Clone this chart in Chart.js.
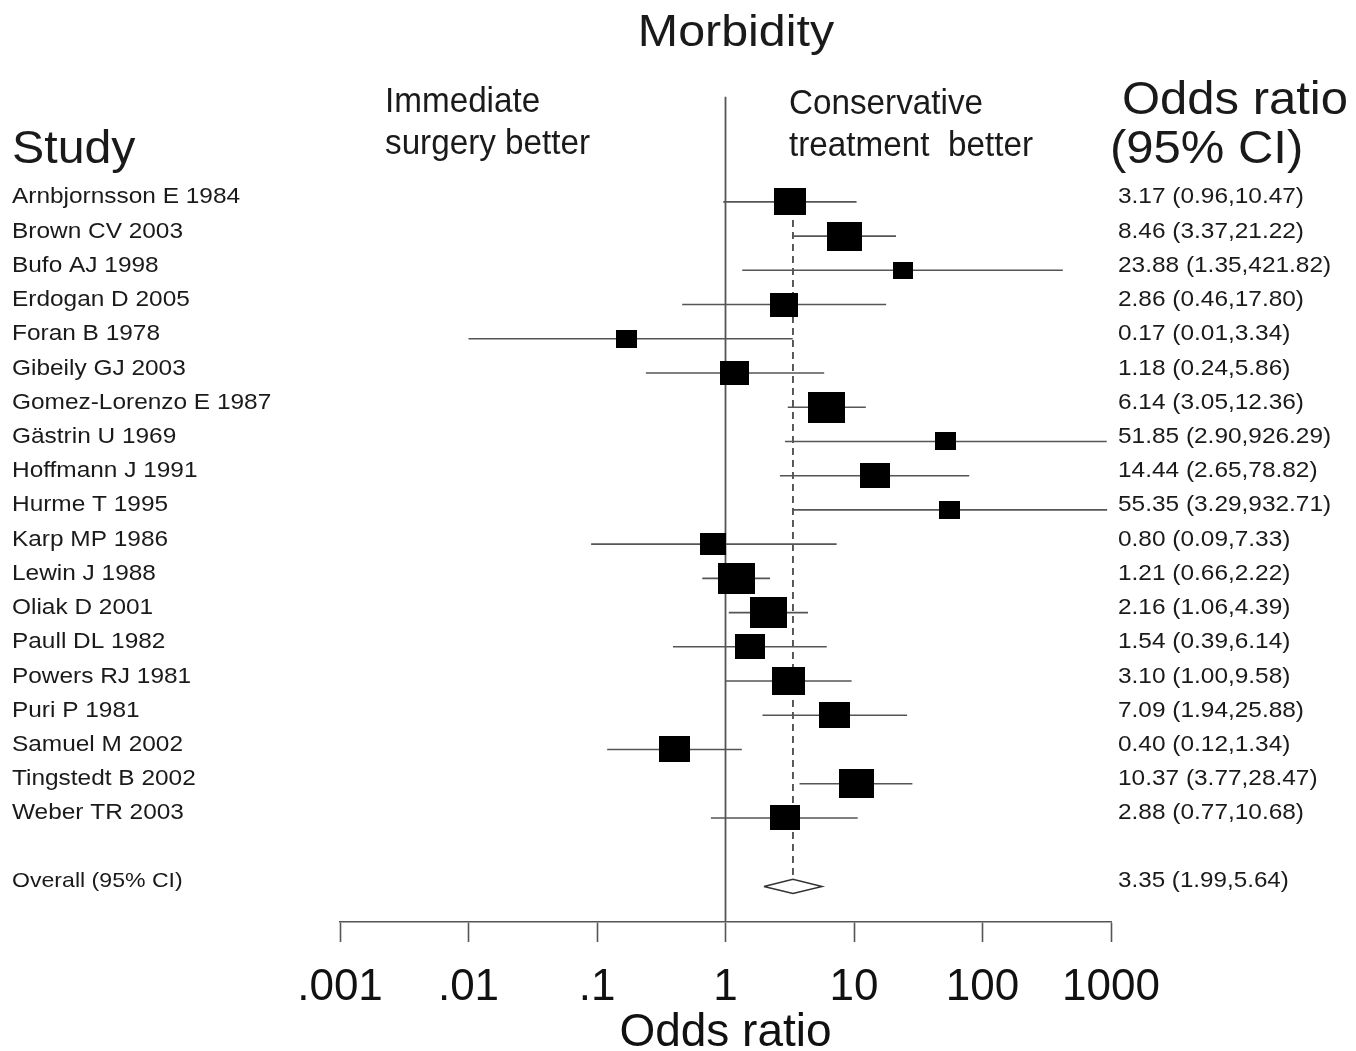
<!DOCTYPE html>
<html>
<head>
<meta charset="utf-8">
<title>Morbidity</title>
<script src="https://cdn.jsdelivr.net/npm/chart.js@4.4.1/dist/chart.umd.min.js"></script>
<style>
  html, body { margin: 0; padding: 0; background: #fff; }
  #wrap { width: 1356px; height: 1051px; }
</style>
</head>
<body>
<div id="wrap"><canvas id="forest" width="1356" height="1051"></canvas></div>
<script>
// Datos del forest plot
const studies = [
  'Arnbjornsson E 1984', 'Brown CV 2003', 'Bufo AJ 1998', 'Erdogan D 2005',
  'Foran B 1978', 'Gibeily GJ 2003', 'Gomez-Lorenzo E 1987', 'Gästrin U 1969',
  'Hoffmann J 1991', 'Hurme T 1995', 'Karp MP 1986', 'Lewin J 1988',
  'Oliak D 2001', 'Paull DL 1982', 'Powers RJ 1981', 'Puri P 1981',
  'Samuel M 2002', 'Tingstedt B 2002', 'Weber TR 2003'
];
const oddsRatio = [3.17, 8.46, 23.88, 2.86, 0.17, 1.18, 6.14, 51.85, 14.44, 55.35,
                   0.80, 1.21, 2.16, 1.54, 3.10, 7.09, 0.40, 10.37, 2.88];
const ciLow = [0.96, 3.37, 1.35, 0.46, 0.01, 0.24, 3.05, 2.90, 2.65, 3.29,
               0.09, 0.66, 1.06, 0.39, 1.00, 1.94, 0.12, 3.77, 0.77];
const ciHigh = [10.47, 21.22, 421.82, 17.80, 3.34, 5.86, 12.36, 926.29, 78.82, 932.71,
                7.33, 2.22, 4.39, 6.14, 9.58, 25.88, 1.34, 28.47, 10.68];
// peso relativo de cada estudio (tamaño del cuadro)
const weights = [8.0, 8.75, 5.0, 7.0, 5.25, 7.25, 9.25, 5.25, 7.5, 5.25,
                 6.5, 9.25, 9.25, 7.5, 8.25, 7.75, 7.75, 8.75, 7.5];

const overallLabel = 'Overall (95% CI)';
const overallOR = 3.35;
const overallLow = 1.99;
const overallHigh = 5.64;

const tickValues = [0.001, 0.01, 0.1, 1, 10, 100, 1000];
const tickLabels = ['.001', '.01', '.1', '1', '10', '100', '1000'];

const overallRow = studies.length + 1;
const FONT = '"Liberation Sans", Arial, Helvetica, sans-serif';

function fmt(or, lo, hi) {
  return or.toFixed(2) + ' (' + lo.toFixed(2) + ',' + hi.toFixed(2) + ')';
}

// cuadro negro con tamaño según el peso
function makeBox(w) {
  const c = document.createElement('canvas');
  c.width = Math.round(w * 4);
  c.height = Math.round(w * 4 * 0.84);
  const g = c.getContext('2d');
  g.fillStyle = '#000';
  g.fillRect(0, 0, c.width, c.height);
  return c;
}

const datasets = [];

// cuadros (estimación puntual)
datasets.push({
  type: 'scatter',
  data: oddsRatio.map((v, i) => ({ x: v, y: i })),
  pointStyle: weights.map(makeBox),
  pointRadius: 5,
  showLine: false
});

// diamante global
datasets.push({
  type: 'line',
  data: [
    { x: overallLow, y: overallRow },
    { x: overallOR, y: overallRow - 0.21 },
    { x: overallHigh, y: overallRow },
    { x: overallOR, y: overallRow + 0.21 },
    { x: overallLow, y: overallRow }
  ],
  borderColor: '#333',
  borderWidth: 1.5,
  backgroundColor: '#fff',
  fill: 'shape',
  pointRadius: 0,
  tension: 0
});

// intervalos de confianza
studies.forEach((s, i) => {
  datasets.push({
    type: 'line',
    data: [{ x: ciLow[i], y: i }, { x: ciHigh[i], y: i }],
    borderColor: '#555',
    borderWidth: 1.6,
    pointRadius: 0,
    fill: false
  });
});

// línea discontinua en el OR global
datasets.push({
  type: 'line',
  data: [{ x: overallOR, y: 0.53 }, { x: overallOR, y: overallRow - 0.05 }],
  borderColor: '#333',
  borderWidth: 1.6,
  borderDash: [7, 5],
  pointRadius: 0,
  fill: false
});

// línea de no efecto (OR = 1)
datasets.push({
  type: 'line',
  data: [{ x: 1, y: -3.07 }, { x: 1, y: 21.04 }],
  borderColor: '#555',
  borderWidth: 1.8,
  pointRadius: 0,
  fill: false
});

const textPlugin = {
  id: 'forestText',
  afterDraw(chart) {
    const ctx = chart.ctx;
    const ys = chart.scales.y;
    const put = (txt, x, y, size, sx, align) => {
      ctx.save();
      ctx.font = size + 'px ' + FONT;
      ctx.fillStyle = '#1a1a1a';
      ctx.textBaseline = 'alphabetic';
      ctx.textAlign = align || 'left';
      ctx.translate(x, y);
      ctx.scale(sx, 1);
      ctx.fillText(txt, 0, 0);
      ctx.restore();
    };

    // encabezados
    put('Morbidity', 736, 46, 44, 1.1, 'center');
    put('Study', 12, 163, 46, 1.05);
    put('Immediate', 385, 112, 35, 0.95);
    put('surgery better', 385, 154, 35, 0.95);
    put('Conservative', 789, 114, 35, 0.95);
    put('treatment  better', 789, 156, 35, 0.95);
    put('Odds ratio', 1122, 114, 46, 1.065);
    put('(95% CI)', 1110, 163, 46, 1.065);

    // filas
    studies.forEach((s, i) => {
      const y = ys.getPixelForValue(i) + 1.5;
      put(s, 12, y, 22, 1.11);
      put(fmt(oddsRatio[i], ciLow[i], ciHigh[i]), 1118, y, 22, 1.11);
    });
    const yo = ys.getPixelForValue(overallRow) + 1;
    put(overallLabel, 12, yo, 21, 1.1);
    put(fmt(overallOR, overallLow, overallHigh), 1118, yo, 22, 1.1);
  }
};

new Chart(document.getElementById('forest'), {
  data: { datasets: datasets },
  options: {
    responsive: false,
    animation: false,
    events: [],
    layout: { padding: { left: 340, right: 245, top: 92, bottom: 0 } },
    plugins: {
      legend: { display: false },
      tooltip: { enabled: false },
      title: { display: false }
    },
    scales: {
      x: {
        type: 'logarithmic',
        position: 'bottom',
        min: 0.001,
        max: 1000,
        afterBuildTicks: (scale) => {
          scale.ticks = tickValues.map(v => ({ value: v }));
        },
        afterFit: (scale) => { scale.height = 129; },
        ticks: {
          autoSkip: false,
          maxRotation: 0,
          padding: 19,
          color: '#111',
          font: { family: FONT, size: 44 },
          callback: (v) => {
            const k = tickValues.findIndex(t => Math.abs(Math.log10(t) - Math.log10(v)) < 1e-6);
            return k >= 0 ? tickLabels[k] : '';
          }
        },
        grid: {
          drawOnChartArea: false,
          drawTicks: true,
          tickLength: 20,
          tickColor: '#555',
          tickWidth: 1.6
        },
        border: { display: true, color: '#555', width: 1.6 },
        title: {
          display: true,
          text: 'Odds ratio',
          color: '#111',
          padding: { top: 0, bottom: -5 },
          font: { family: FONT, size: 46, lineHeight: 1 }
        }
      },
      y: {
        type: 'linear',
        display: false,
        reverse: true,
        min: -3.21,
        max: 21.04
      }
    }
  },
  plugins: [textPlugin]
});
</script>
</body>
</html>
